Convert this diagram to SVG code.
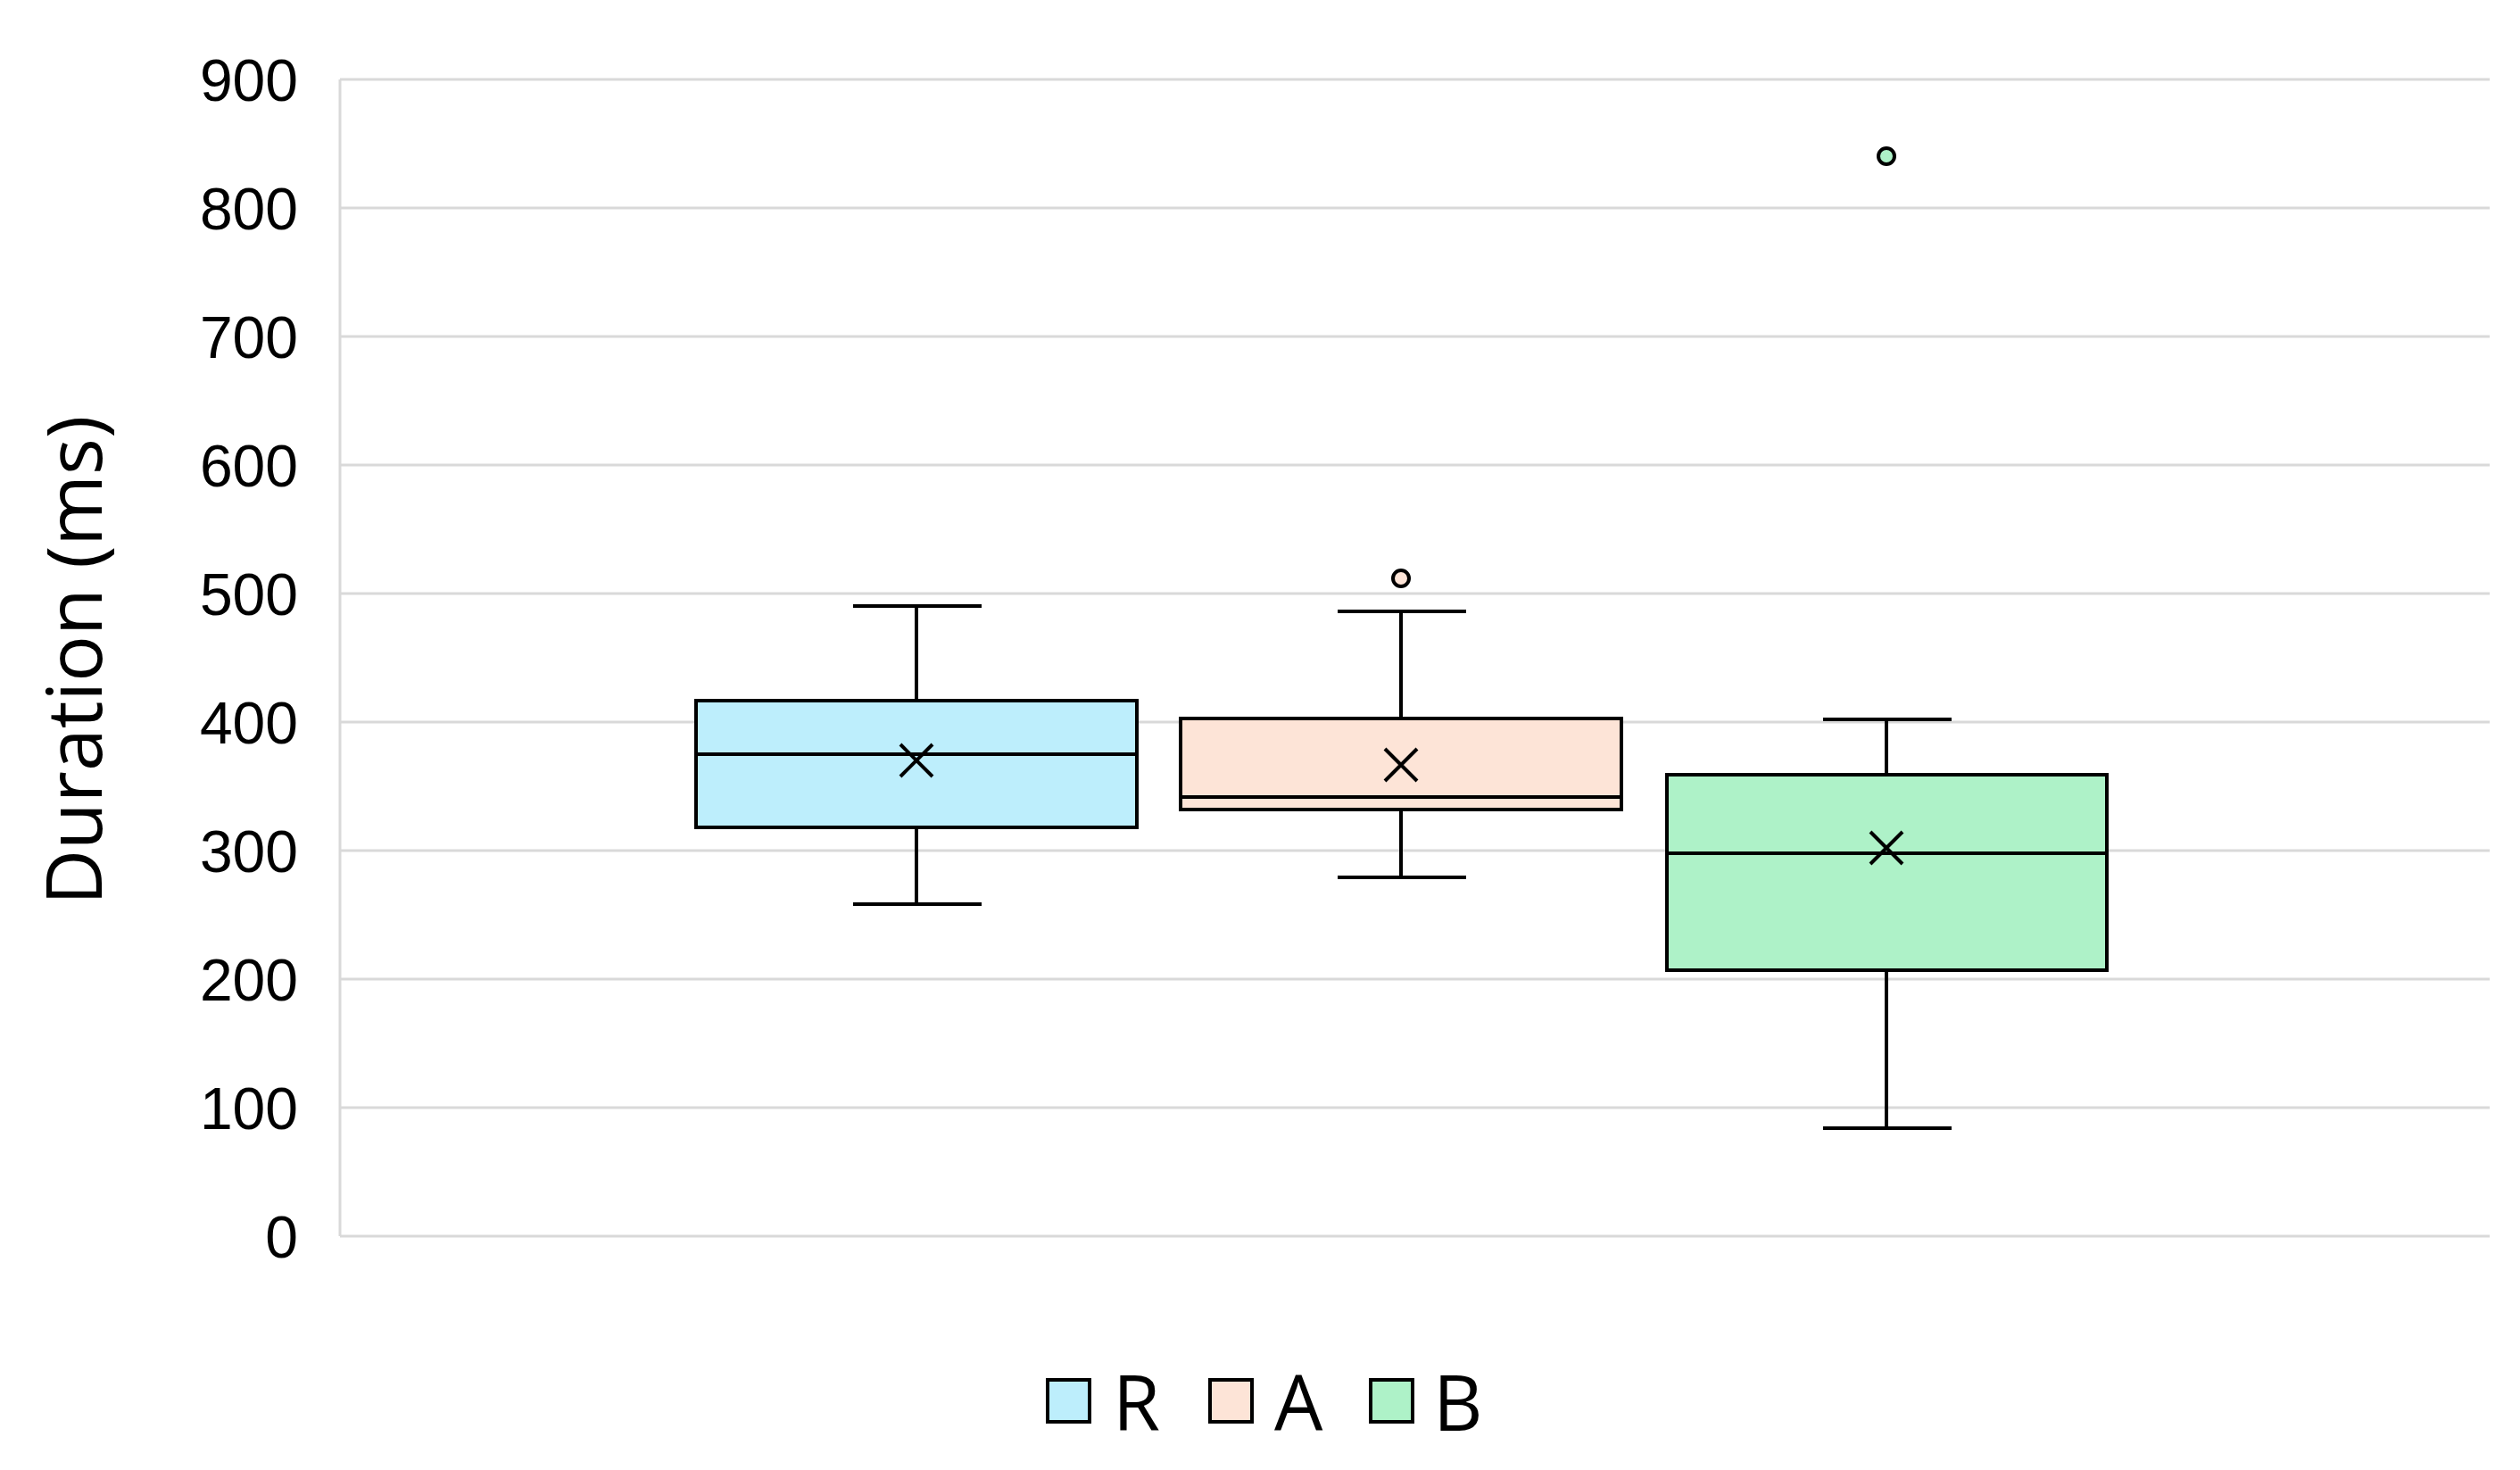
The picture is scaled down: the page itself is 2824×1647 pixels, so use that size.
<svg xmlns="http://www.w3.org/2000/svg" width="2824" height="1647" viewBox="0 0 2824 1647">
<style>
.grid{stroke:#d9d9d9;stroke-width:3}
.ln{stroke:#000;stroke-width:4;fill:none}
.bx{stroke:#000;stroke-width:4}
.t{font-family:"Liberation Sans",Arial,sans-serif;font-size:66px;fill:#000}
.lg{font-family:"Open Sans","Liberation Sans",sans-serif;font-size:86px;fill:#000}
</style>
<rect width="2824" height="1647" fill="#fff"/>
<g id="grid">
<line class="grid" x1="381" y1="89" x2="2790" y2="89"/>
<line class="grid" x1="381" y1="233" x2="2790" y2="233"/>
<line class="grid" x1="381" y1="377" x2="2790" y2="377"/>
<line class="grid" x1="381" y1="521" x2="2790" y2="521"/>
<line class="grid" x1="381" y1="665" x2="2790" y2="665"/>
<line class="grid" x1="381" y1="809" x2="2790" y2="809"/>
<line class="grid" x1="381" y1="953" x2="2790" y2="953"/>
<line class="grid" x1="381" y1="1097" x2="2790" y2="1097"/>
<line class="grid" x1="381" y1="1241" x2="2790" y2="1241"/>
<line class="grid" x1="381" y1="1385" x2="2790" y2="1385"/>
<line class="grid" x1="381" y1="89" x2="381" y2="1385"/>
</g>
<g id="axis" text-anchor="end">
<text class="t" x="334" y="113">900</text>
<text class="t" x="334" y="257">800</text>
<text class="t" x="334" y="401">700</text>
<text class="t" x="334" y="545">600</text>
<text class="t" x="334" y="689">500</text>
<text class="t" x="334" y="833">400</text>
<text class="t" x="334" y="977">300</text>
<text class="t" x="334" y="1121">200</text>
<text class="t" x="334" y="1265">100</text>
<text class="t" x="334" y="1409">0</text>
<text class="lg" x="0" y="0" text-anchor="middle" transform="translate(114 740) rotate(-90)" font-size="82">Duration (ms)</text>
</g>
<g id="R">
<line class="ln" x1="1027" y1="679" x2="1027" y2="785"/>
<line class="ln" x1="1027" y1="927" x2="1027" y2="1013"/>
<line class="ln" x1="956" y1="679" x2="1100" y2="679"/>
<line class="ln" x1="956" y1="1013" x2="1100" y2="1013"/>
<rect class="bx" x="780" y="785" width="494" height="142" fill="#bdeefc"/>
<line class="ln" x1="780" y1="845" x2="1274" y2="845"/>
<path class="ln" d="M1009 834 L1045 870 M1045 834 L1009 870"/>
</g>
<g id="A">
<line class="ln" x1="1570" y1="685" x2="1570" y2="805"/>
<line class="ln" x1="1570" y1="907" x2="1570" y2="983"/>
<line class="ln" x1="1499" y1="685" x2="1643" y2="685"/>
<line class="ln" x1="1499" y1="983" x2="1643" y2="983"/>
<rect class="bx" x="1323" y="805" width="494" height="102" fill="#fde4d7"/>
<line class="ln" x1="1323" y1="893" x2="1817" y2="893"/>
<path class="ln" d="M1552 839 L1588 875 M1588 839 L1552 875"/>
<circle cx="1570" cy="648" r="9" fill="#fde4d7" stroke="#000" stroke-width="4"/>
</g>
<g id="B">
<line class="ln" x1="2114" y1="806" x2="2114" y2="868"/>
<line class="ln" x1="2114" y1="1087" x2="2114" y2="1264"/>
<line class="ln" x1="2043" y1="806" x2="2187" y2="806"/>
<line class="ln" x1="2043" y1="1264" x2="2187" y2="1264"/>
<rect class="bx" x="1868" y="868" width="493" height="219" fill="#aef2c8"/>
<line class="ln" x1="1868" y1="956" x2="2361" y2="956"/>
<path class="ln" d="M2096 932 L2132 968 M2132 932 L2096 968"/>
<circle cx="2114" cy="175" r="9" fill="#aef2c8" stroke="#000" stroke-width="4"/>
</g>
<g id="legend">
<rect class="bx" x="1174" y="1546" width="47" height="47" fill="#bdeefc"/>
<text class="lg" x="1247" y="1603">R</text>
<rect class="bx" x="1356" y="1546" width="47" height="47" fill="#fde4d7"/>
<text class="lg" x="1428" y="1603">A</text>
<rect class="bx" x="1536" y="1546" width="47" height="47" fill="#aef2c8"/>
<text class="lg" x="1606" y="1603">B</text>
</g>
</svg>
